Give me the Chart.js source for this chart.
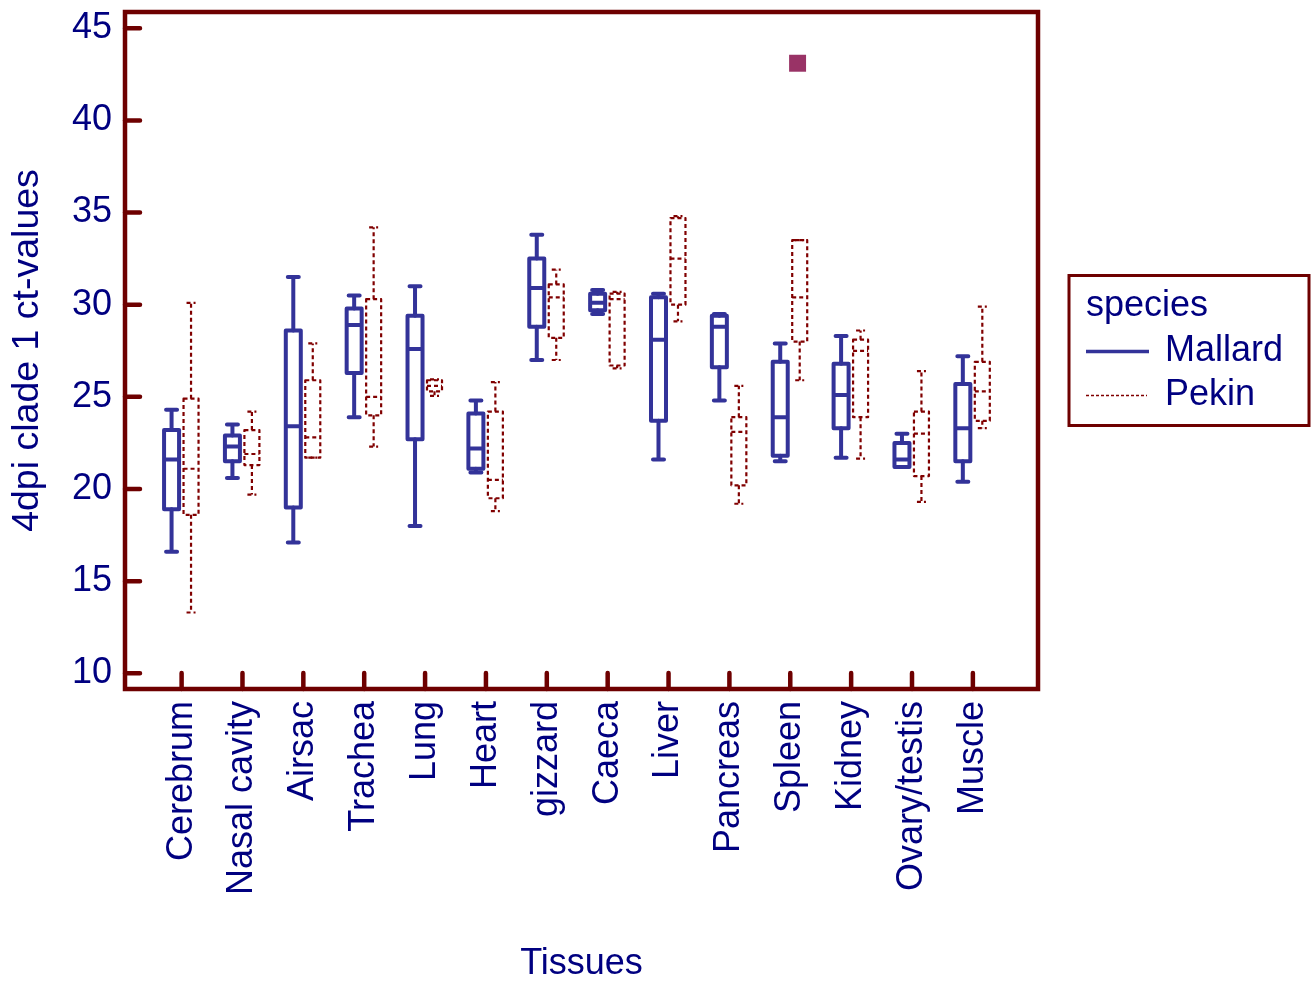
<!DOCTYPE html>
<html>
<head>
<meta charset="utf-8">
<script src="https://cdn.jsdelivr.net/npm/chart.js@4.4.0/dist/chart.umd.min.js"></script>
<style>
  html, body { margin: 0; padding: 0; background: #fff; }
</style>
</head>
<body>
<canvas id="chart" width="1312" height="982"></canvas>
<script>
// categories and tick values
const tissues = ['Cerebrum', 'Nasal cavity', 'Airsac', 'Trachea', 'Lung', 'Heart', 'gizzard',
                 'Caeca', 'Liver', 'Pancreas', 'Spleen', 'Kidney', 'Ovary/testis', 'Muscle'];
const yTicks = [10, 15, 20, 25, 30, 35, 40, 45];

// Mallard box stats (min, q1, median, q3, max)
const mallardMin = [16.6, 20.6, 17.1, 23.9, 18.0, 20.9, 27.0, 29.5, 21.6, 24.8, 21.5, 21.7, 21.2, 20.4];
const mallardQ1  = [18.9, 21.5, 19.0, 26.3, 22.7, 21.1, 28.8, 29.7, 23.7, 26.6, 21.8, 23.3, 21.2, 21.5];
const mallardMed = [21.6, 22.3, 23.4, 28.9, 27.6, 22.2, 30.9, 30.1, 28.1, 28.8, 23.9, 25.1, 21.6, 23.3];
const mallardQ3  = [23.2, 22.9, 28.6, 29.8, 29.4, 24.1, 32.5, 30.6, 30.4, 29.4, 26.9, 26.8, 22.5, 25.7];
const mallardMax = [24.3, 23.5, 31.5, 30.5, 31.0, 24.8, 33.8, 30.8, 30.6, 29.5, 27.9, 28.3, 23.0, 27.2];

// Pekin box stats
const pekinMin = [13.3, 19.7, 21.7, 22.3, 25.05, 18.8, 27.0, 26.55, 29.1, 19.2, 25.9, 21.65, 19.3, 23.3];
const pekinQ1  = [18.6, 21.3, 21.7, 24.0, 25.3, 19.5, 28.2, 26.7, 30.0, 20.2, 28.0, 23.9, 20.7, 23.7];
const pekinMed = [21.1, 21.9, 22.8, 25.0, 25.6, 20.5, 30.4, 30.3, 32.5, 23.1, 30.4, 27.5, 23.0, 25.3];
const pekinQ3  = [24.9, 23.2, 25.9, 30.3, 25.9, 24.2, 31.1, 30.6, 34.7, 23.9, 33.5, 28.1, 24.2, 26.9];
const pekinMax = [30.1, 24.2, 27.9, 34.2, 25.95, 25.8, 31.9, 30.7, 34.8, 25.6, 33.5, 28.6, 26.4, 29.9];

// outlier (Pekin, Spleen)
const outlierTissue = ['Spleen'];
const outlierValue = [43.1];

const FONT = "'Liberation Sans', Arial, sans-serif";
const TEXT = '#000080';
const FRAME = '#6e0000';

const series = [
  { name: 'Mallard', min: mallardMin, q1: mallardQ1, med: mallardMed, q3: mallardQ3, max: mallardMax,
    color: '#333399', width: 4, dash: [], offset: -0.165, capHalf: 5.5 },
  { name: 'Pekin', min: pekinMin, q1: pekinQ1, med: pekinMed, q3: pekinQ3, max: pekinMax,
    color: '#800000', width: 2.2, dash: [4, 3], offset: 0.155, capHalf: 4.5 }
];

const boxPlugin = {
  id: 'boxes',
  beforeDatasetsDraw(chart) {
    const { ctx, scales: { x, y } } = chart;
    const step = x.getPixelForValue(2) - x.getPixelForValue(1);
    const half = 7.5;
    series.forEach(s => {
      ctx.save();
      ctx.strokeStyle = s.color;
      ctx.lineWidth = s.width;
      ctx.setLineDash(s.dash);
      ctx.lineCap = s.dash.length ? 'butt' : 'round';
      ctx.lineJoin = 'round';
      tissues.forEach((t, i) => {
        const cx = x.getPixelForValue(i + 1) + s.offset * step;
        const yMin = y.getPixelForValue(s.min[i]);
        const yQ1 = y.getPixelForValue(s.q1[i]);
        const yMed = y.getPixelForValue(s.med[i]);
        const yQ3 = y.getPixelForValue(s.q3[i]);
        const yMax = y.getPixelForValue(s.max[i]);
        ctx.beginPath();
        ctx.moveTo(cx, yQ3); ctx.lineTo(cx, yMax);
        ctx.moveTo(cx, yQ1); ctx.lineTo(cx, yMin);
        ctx.moveTo(cx - s.capHalf, yMax); ctx.lineTo(cx + s.capHalf, yMax);
        ctx.moveTo(cx - s.capHalf, yMin); ctx.lineTo(cx + s.capHalf, yMin);
        ctx.stroke();
        ctx.beginPath();
        ctx.rect(cx - half, yQ3, 2 * half, yQ1 - yQ3);
        ctx.moveTo(cx - half, yMed); ctx.lineTo(cx + half, yMed);
        ctx.stroke();
      });
      ctx.restore();
    });
  },
  afterDraw(chart) {
    const { ctx, chartArea: a, scales: { x, y } } = chart;
    ctx.save();
    // frame + inward ticks
    ctx.strokeStyle = FRAME;
    ctx.lineWidth = 4.5;
    ctx.lineCap = 'round';
    ctx.strokeRect(a.left, a.top, a.right - a.left, a.bottom - a.top);
    ctx.beginPath();
    y.ticks.forEach(t => {
      const py = y.getPixelForValue(t.value);
      ctx.moveTo(a.left, py); ctx.lineTo(a.left + 15, py);
    });
    x.ticks.forEach(t => {
      const px = x.getPixelForValue(t.value);
      ctx.moveTo(px, a.bottom); ctx.lineTo(px, a.bottom - 16);
    });
    ctx.stroke();

    // legend
    const lx = a.right + 31, ly = (a.top + a.bottom) / 2 - 75;
    ctx.lineWidth = 3;
    ctx.lineCap = 'butt';
    ctx.strokeRect(lx, ly, 240, 150);
    ctx.fillStyle = TEXT;
    ctx.font = '36px ' + FONT;
    ctx.textBaseline = 'alphabetic';
    ctx.fillText('species', lx + 17, ly + 40);
    ctx.fillText(series[0].name, lx + 96, ly + 85);
    ctx.fillText(series[1].name, lx + 96, ly + 129);
    ctx.strokeStyle = series[0].color;
    ctx.lineWidth = 3.5;
    ctx.beginPath(); ctx.moveTo(lx + 17, ly + 76); ctx.lineTo(lx + 80, ly + 76); ctx.stroke();
    ctx.strokeStyle = series[1].color;
    ctx.lineWidth = 1.5;
    ctx.setLineDash([3, 2]);
    ctx.beginPath(); ctx.moveTo(lx + 17, ly + 120); ctx.lineTo(lx + 78, ly + 120); ctx.stroke();
    ctx.restore();
  }
};

const outlierData = outlierTissue.map((t, k) => ({
  x: tissues.indexOf(t) + 1 + 0.12,
  y: outlierValue[k]
}));

new Chart(document.getElementById('chart'), {
  type: 'scatter',
  data: {
    datasets: [{
      label: 'outlier',
      data: outlierData,
      pointStyle: 'rect',
      pointRadius: 12,
      pointHoverRadius: 12,
      borderWidth: 0,
      backgroundColor: '#993366'
    }]
  },
  options: {
    responsive: false,
    animation: false,
    events: [],
    layout: { padding: { top: 12, right: 274, left: 0, bottom: 0 } },
    plugins: { legend: { display: false }, tooltip: { enabled: false } },
    scales: {
      x: {
        type: 'linear',
        min: 0.07,
        max: 15.07,
        afterBuildTicks: s => { s.ticks = tissues.map((t, i) => ({ value: i + 1 })); },
        afterFit: s => {
          s.height = 293;
          s.paddingLeft = 0; s.paddingRight = 0;
        },
        grid: { display: false, drawTicks: false },
        border: { display: false },
        ticks: {
          autoSkip: false,
          minRotation: 90,
          maxRotation: 90,
          padding: 12,
          color: TEXT,
          font: { family: FONT, size: 36, lineHeight: 1.2 },
          callback: v => tissues[v - 1]
        },
        title: {
          display: true,
          text: 'Tissues',
          color: TEXT,
          font: { family: FONT, size: 36, lineHeight: 1.0 },
          padding: { top: 0, bottom: 0 }
        }
      },
      y: {
        min: 9.15,
        max: 45.88,
        afterBuildTicks: s => { s.ticks = yTicks.map(v => ({ value: v })); },
        afterFit: s => {
          s.width = 125;
          s.paddingTop = 0; s.paddingBottom = 0;
        },
        grid: { display: false, drawTicks: false },
        border: { display: false },
        ticks: {
          padding: 13,
          color: TEXT,
          font: { family: FONT, size: 36, lineHeight: 1.2 }
        },
        title: {
          display: true,
          text: '4dpi clade 1 ct-values',
          color: TEXT,
          font: { family: FONT, size: 37.5, lineHeight: 1.2 },
          padding: { top: 5, bottom: 0 }
        }
      }
    }
  },
  plugins: [boxPlugin]
});
</script>
</body>
</html>
